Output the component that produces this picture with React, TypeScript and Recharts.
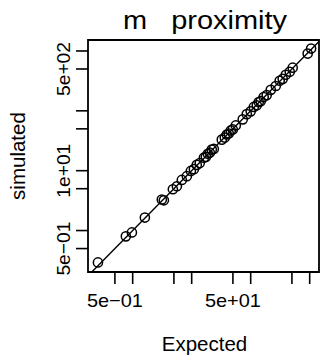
import React from 'react';
import { ScatterChart, Scatter, XAxis, YAxis, ReferenceLine, ReferenceArea, Customized } from 'recharts';

const expected = [0.258, 0.767, 0.97, 1.61, 3.12, 3.38, 4.8, 5.61, 6.81, 8.28, 9.68, 10.9, 12.2, 13.7, 16.1, 17.4, 18.8, 20.3, 21.9, 23.7, 32.4, 36.4, 39.4, 42.5, 46.0, 49.7, 55.9, 73.4, 85.9, 100, 113, 127, 137, 148, 166, 187, 219, 266, 310, 349, 393, 459, 515, 925, 1057];
const simulated = [0.293, 0.8, 0.93, 1.65, 3.3, 3.2, 4.9, 5.5, 7.0, 8.1, 9.9, 10.6, 12.5, 13.4, 16.5, 17.0, 19.2, 20.0, 22.5, 23.1, 33.0, 35.8, 40.2, 41.8, 47.0, 48.9, 57.0, 72.0, 88.0, 98.0, 116, 124, 140, 145, 170, 183, 224, 260, 318, 342, 401, 450, 525, 905, 1096];

const xTicks = [0.5, 1, 5, 10, 50, 100, 500, 1000];
const yTicks = [0.5, 1, 5, 10, 50, 100, 500, 1000];
const xLabelled: Record<number, string> = { 0.5: '5e\u221201', 50: '5e+01' };
const yLabelled: Record<number, string> = { 0.5: '5e\u221201', 10: '1e+01', 500: '5e+02' };

const title = 'm   proximity';
const xTitle = 'Expected';
const yTitle = 'simulated';

const data = expected.map((e, i) => ({ x: e, y: simulated[i] }));

const FONT = '"Liberation Sans", Arial, sans-serif';

const XTick = (props: any) => {
  const { x, payload } = props;
  const lab = xLabelled[payload.value];
  if (!lab) return <g />;
  return (
    <text x={x} y={306.5} textAnchor="middle" fontSize={19} textLength={56} lengthAdjust="spacingAndGlyphs" fontFamily={FONT} fill="#000">{lab}</text>
  );
};

const YTick = (props: any) => {
  const { y, payload } = props;
  const lab = yLabelled[payload.value];
  if (!lab) return <g />;
  return (
    <text x={70} y={y} transform={`rotate(-90, 70, ${y})`} textAnchor="middle" fontSize={19} textLength={54} lengthAdjust="spacingAndGlyphs" fontFamily={FONT} fill="#000">{lab}</text>
  );
};

const Circle = (props: any) => (
  <circle cx={props.cx} cy={props.cy} r={4.6} fill="none" stroke="#000" strokeWidth={1.5} />
);

const Texts = () => (
  <g fontFamily={FONT} fill="#000">
    <text x={205} y={28.5} textAnchor="middle" fontSize={26} xmlSpace="preserve" style={{ whiteSpace: 'pre' }} textLength={164} lengthAdjust="spacingAndGlyphs">{title}</text>
    <text x={204.5} y={351} textAnchor="middle" fontSize={20.5}>{xTitle}</text>
    <text x={25} y={156} transform="rotate(-90, 25, 156)" textAnchor="middle" fontSize={20.5}>{yTitle}</text>
  </g>
);

export default function App() {
  return (
    <div style={{ position: 'absolute', left: 0, top: 0, background: '#fff' }}>
      <ScatterChart width={320} height={360} margin={{ top: 40, right: 1, bottom: 0, left: 0 }}>
        <XAxis
          type="number"
          dataKey="x"
          scale="log"
          domain={[0.175, 1438]}
          allowDataOverflow
          ticks={xTicks}
          tick={<XTick />}
          tickSize={12}
          tickLine={{ stroke: '#000', strokeWidth: 1.6 }}
          axisLine={false}
          height={88}
          interval={0}
        />
        <YAxis
          type="number"
          dataKey="y"
          scale="log"
          domain={[0.203, 1525]}
          allowDataOverflow
          ticks={yTicks}
          tick={<YTick />}
          tickSize={12}
          tickLine={{ stroke: '#000', strokeWidth: 1.6 }}
          axisLine={false}
          width={88}
          interval={0}
        />
        <ReferenceArea x1={0.175} x2={1438} y1={0.203} y2={1525} fill="none" stroke="#000" strokeWidth={1.8} fillOpacity={0} />
        <ReferenceLine segment={[{ x: 0.203, y: 0.203 }, { x: 1438, y: 1438 }]} stroke="#000" strokeWidth={1.4} />
        <Scatter data={data} shape={<Circle />} isAnimationActive={false} />
        <Customized component={Texts} />
      </ScatterChart>
    </div>
  );
}
